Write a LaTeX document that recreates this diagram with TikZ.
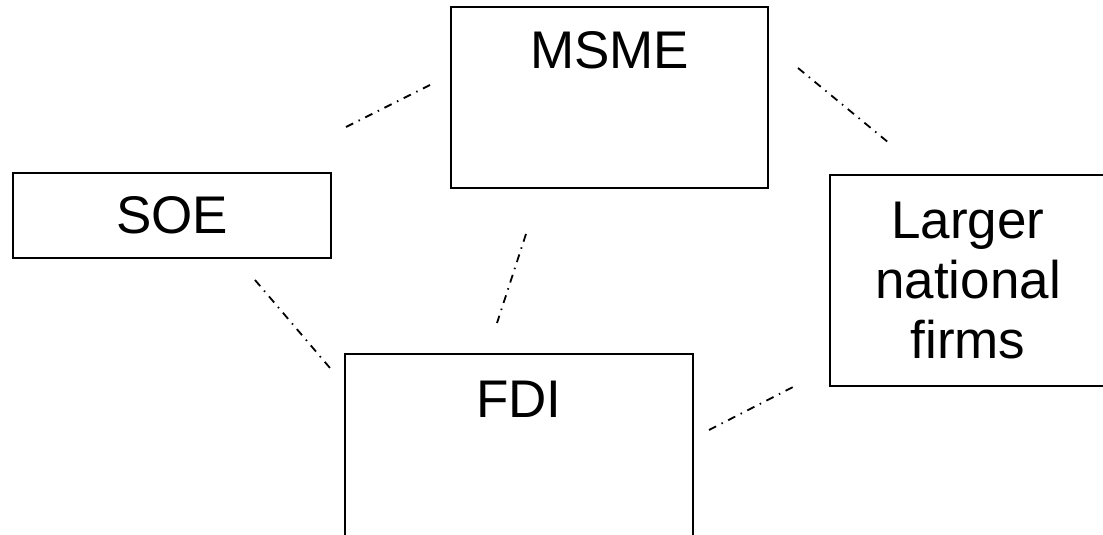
\documentclass[tikz,border=0pt]{standalone}
\usepackage{fontspec}
\setmainfont{Liberation Sans}
\begin{document}
\begin{tikzpicture}[x=1pt,y=-1pt,
  firm/.style={draw=black,line width=1.5pt,fill=none,inner sep=0pt,
    font=\fontsize{53}{60}\selectfont,align=center},
  tag/.style={inner sep=0pt,anchor=base,font=\fontsize{53}{60}\selectfont},
  tie/.style={draw=black,line width=1.8pt,
    dash pattern=on 8pt off 6pt on 1.5pt off 6pt}]
\clip (0,0) rectangle (1103,535);
\fill[white] (0,0) rectangle (1103,535);

% boxes
\node[firm,minimum width=317pt,minimum height=181pt] (msme) at (609.5,97.5) {};
\node[tag] (msmetext) at (609.5,69) {MSME};
\node[firm,minimum width=318pt,minimum height=85pt] (soe) at (172,215.5) {SOE};
\node[firm,minimum width=276pt,minimum height=211pt] (large) at (968,280.5)
  {Larger\\national\\firms};
\node[firm,minimum width=348pt,minimum height=300pt] (fdi) at (519,504) {};
\node[tag] (fditext) at (519,417) {FDI};

% free ends of the dash-dotted ties
\coordinate (t1a) at (346,127); \coordinate (t1b) at (430,85);
\coordinate (t2a) at (255,280); \coordinate (t2b) at (330,368);
\coordinate (t3a) at (526,234); \coordinate (t3b) at (497,323);
\coordinate (t4a) at (709,430); \coordinate (t4b) at (793,387);
\coordinate (t5a) at (798,68);  \coordinate (t5b) at (889,143);

\draw[tie] (t1a) -- (t1b);
\draw[tie] (t2a) -- (t2b);
\draw[tie] (t3a) -- (t3b);
\draw[tie] (t4a) -- (t4b);
\draw[tie] (t5a) -- (t5b);
\end{tikzpicture}
\end{document}
